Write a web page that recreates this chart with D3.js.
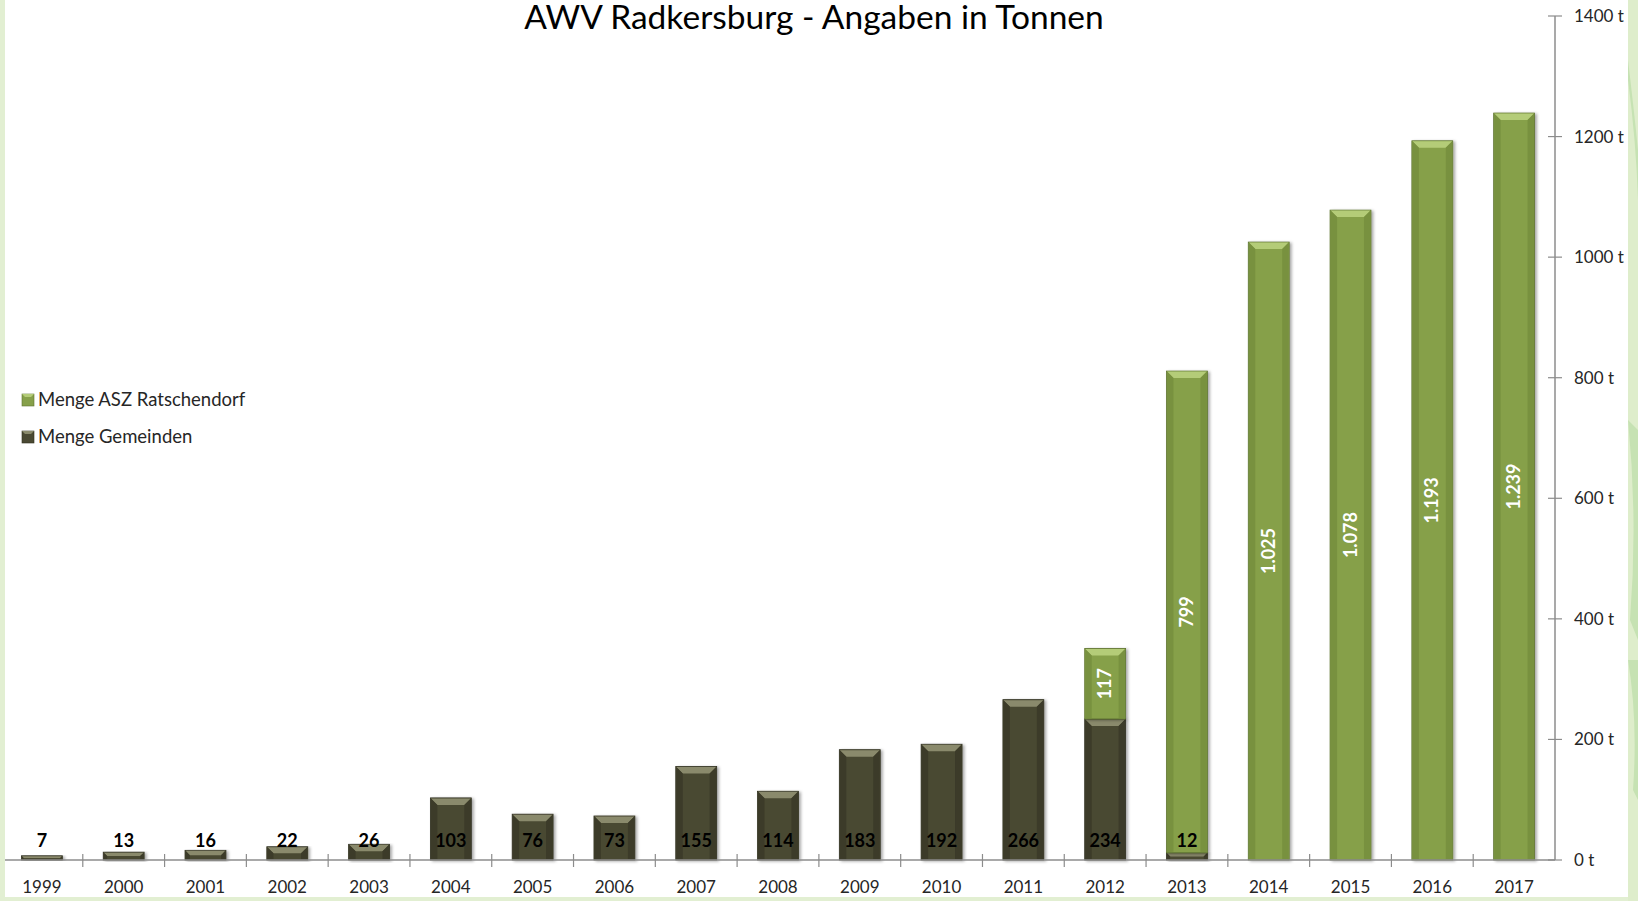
<html>

<head>
    <meta charset="utf-8">
    <script src="https://cdnjs.cloudflare.com/ajax/libs/d3/7.1.1/d3.js"></script>
    <style>
        body { margin: 0; background: #fff; overflow: hidden; }
        text { font-family: Lato, 'Open Sans', sans-serif; }
    </style>
</head>

<body>
    <script>
        const years = ['1999', '2000', '2001', '2002', '2003', '2004', '2005', '2006', '2007', '2008',
            '2009', '2010', '2011', '2012', '2013', '2014', '2015', '2016', '2017'];
        const gemeinden = [7, 13, 16, 22, 26, 103, 76, 73, 155, 114, 183, 192, 266, 234, 12, 0, 0, 0, 0];
        const asz = [0, 0, 0, 0, 0, 0, 0, 0, 0, 0, 0, 0, 0, 117, 799, 1025, 1078, 1193, 1239];
        const yTicks = [0, 200, 400, 600, 800, 1000, 1200, 1400];
        const seriesNames = ['Menge ASZ Ratschendorf', 'Menge Gemeinden'];
        const title = 'AWV Radkersburg - Angaben in Tonnen';

        const width = 1638;
        const height = 901;
        const plot = { left: 1, right: 1555, top: 16, bottom: 860 };

        const de = d3.formatLocale({ decimal: ',', thousands: '.', grouping: [3], currency: ['', ' €'] });
        const fmt = de.format(',d');

        const svg = d3.select('body').append('svg')
            .attr('width', width)
            .attr('height', height);

        // frame of the slide (light green strips)
        svg.append('rect').attr('x', 0).attr('y', 0).attr('width', 5).attr('height', height).attr('fill', '#e2efd2');
        svg.append('rect').attr('x', 0).attr('y', 897).attr('width', width).attr('height', 4).attr('fill', '#e2efd2');
        svg.append('rect').attr('x', 1628).attr('y', 0).attr('width', 10).attr('height', height).attr('fill', '#deedcb');
        svg.append('path')
            .attr('d', 'M1628,80 Q1636,140 1638,200 L1638,150 Q1634,110 1628,60Z M1628,420 Q1638,520 1630,620 L1638,640 L1638,430Z M1628,660 Q1638,720 1633,790 L1638,800 L1638,660Z')
            .attr('fill', '#c6e2b3');

        const defs = svg.append('defs');
        const shadow = defs.append('filter').attr('id', 'shadow')
            .attr('x', '-20%').attr('y', '-5%').attr('width', '150%').attr('height', '120%');
        shadow.append('feDropShadow')
            .attr('dx', 2).attr('dy', 1).attr('stdDeviation', 1.5)
            .attr('flood-color', '#000').attr('flood-opacity', 0.35);

        const x = d3.scaleBand()
            .domain(years)
            .range([plot.left, plot.right])
            .paddingInner(0.5)
            .paddingOuter(0.25);

        const y = d3.scaleLinear()
            .domain([0, 1400])
            .range([plot.bottom, plot.top]);

        const data = years.map((year, i) => ({ year, g: gemeinden[i], a: asz[i] }));
        const stacked = d3.stack().keys(['g', 'a'])(data);

        const styles = {
            g: { body: '#4a4933', edge: '#303020', bevel: '#8a8a6c', side: '#3c3b29' },
            a: { body: '#86a04a', edge: '#5e7430', bevel: '#b4cc78', side: '#78913f' }
        };

        const bars = svg.append('g');
        stacked.forEach(layer => {
            const st = styles[layer.key];
            layer.forEach(d => {
                if (d[1] - d[0] <= 0) return;
                const x0 = x(d.data.year);
                const w = x.bandwidth();
                const y0 = y(d[1]);
                const h = y(d[0]) - y(d[1]);
                const b = Math.min(7, h / 2);
                const g = bars.append('g');
                g.append('rect')
                    .attr('x', x0).attr('y', y0)
                    .attr('width', w).attr('height', h)
                    .attr('fill', st.body)
                    .attr('stroke', st.edge)
                    .attr('stroke-width', 0.8)
                    .attr('filter', 'url(#shadow)');
                // bevel top
                g.append('path')
                    .attr('d', `M${x0 + 0.5},${y0 + 0.5}L${x0 + w - 0.5},${y0 + 0.5}L${x0 + w - b},${y0 + b}L${x0 + b},${y0 + b}Z`)
                    .attr('fill', st.bevel);
                // bevel sides
                g.append('path')
                    .attr('d', `M${x0 + 0.5},${y0 + 0.5}L${x0 + b},${y0 + b}L${x0 + b},${y0 + h - 1}L${x0 + 0.5},${y0 + h - 0.5}Z`)
                    .attr('fill', st.side);
                g.append('path')
                    .attr('d', `M${x0 + w - 0.5},${y0 + 0.5}L${x0 + w - b},${y0 + b}L${x0 + w - b},${y0 + h - 1}L${x0 + w - 0.5},${y0 + h - 0.5}Z`)
                    .attr('fill', st.side);
            });
        });

        // axes
        const axisColor = '#8c8c8c';
        svg.append('line')
            .attr('x1', 5).attr('x2', plot.right)
            .attr('y1', y(0)).attr('y2', y(0))
            .attr('stroke', axisColor).attr('stroke-width', 1.5);

        const step = x.step();
        years.forEach(year => {
            const bx = x(year) + x.bandwidth() + step * 0.25;
            if (bx < plot.right - 2) {
                svg.append('line')
                    .attr('x1', bx).attr('x2', bx)
                    .attr('y1', y(0) - 6).attr('y2', y(0) + 7)
                    .attr('stroke', axisColor).attr('stroke-width', 1.2);
            }
        });

        svg.append('g')
            .selectAll('text')
            .data(years)
            .enter().append('text')
            .attr('x', d => x(d) + x.bandwidth() / 2)
            .attr('y', 893)
            .attr('text-anchor', 'middle')
            .attr('font-size', 17)
            .attr('fill', '#262626')
            .text(d => d);

        svg.append('line')
            .attr('x1', plot.right).attr('x2', plot.right)
            .attr('y1', y(1400)).attr('y2', y(0))
            .attr('stroke', axisColor).attr('stroke-width', 1.5);

        const yAxis = svg.append('g');
        yTicks.forEach(t => {
            yAxis.append('line')
                .attr('x1', plot.right - 7).attr('x2', plot.right + 7)
                .attr('y1', y(t)).attr('y2', y(t))
                .attr('stroke', axisColor).attr('stroke-width', 1.2);
            yAxis.append('text')
                .attr('x', 1574)
                .attr('y', y(t) + 6)
                .attr('font-size', 17)
                .attr('fill', '#262626')
                .text(`${t} t`);
        });

        // value labels Gemeinden (at base)
        svg.append('g')
            .selectAll('text')
            .data(data.filter(d => d.g > 0))
            .enter().append('text')
            .attr('x', d => x(d.year) + x.bandwidth() / 2)
            .attr('y', 847)
            .attr('text-anchor', 'middle')
            .attr('font-size', 18)
            .attr('font-weight', 'bold')
            .attr('fill', '#000')
            .text(d => fmt(d.g));

        // value labels ASZ (rotated, centered)
        svg.append('g')
            .selectAll('text')
            .data(data.filter(d => d.a > 0))
            .enter().append('text')
            .attr('transform', d => `translate(${x(d.year) + x.bandwidth() / 2 + 6}, ${y(d.g + d.a / 2)}) rotate(-90)`)
            .attr('text-anchor', 'middle')
            .attr('font-size', 18)
            .attr('font-weight', 'bold')
            .attr('fill', '#fff')
            .text(d => fmt(d.a));

        // legend
        const legend = svg.append('g');
        [['a', 400], ['g', 437]].forEach(([key, ly], i) => {
            const st = styles[key];
            legend.append('rect')
                .attr('x', 22).attr('y', ly - 6)
                .attr('width', 12).attr('height', 12)
                .attr('fill', st.body)
                .attr('stroke', st.edge).attr('stroke-width', 0.6);
            legend.append('path')
                .attr('d', `M22,${ly - 6}L34,${ly - 6}L31,${ly - 3}L25,${ly - 3}Z`)
                .attr('fill', st.bevel);
            legend.append('text')
                .attr('x', 38).attr('y', ly + 6)
                .attr('font-size', 18.5)
                .attr('fill', '#262626')
                .text(seriesNames[i]);
        });

        // title
        svg.append('text')
            .attr('x', 814).attr('y', 29)
            .attr('text-anchor', 'middle')
            .attr('font-size', 33.5)
            .attr('fill', '#000')
            .text(title);
    </script>
</body>

</html>
